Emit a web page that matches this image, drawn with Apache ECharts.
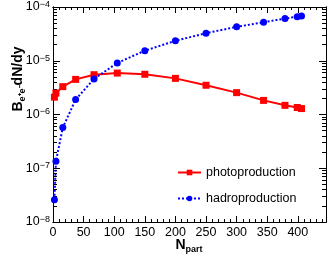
<!DOCTYPE html>
<html>
<head>
<meta charset="utf-8">
<script src="https://cdn.jsdelivr.net/npm/echarts@6/dist/echarts.min.js"></script>
<style>html,body{margin:0;padding:0;background:#fff;}#c{width:333px;height:262px;}</style>
</head>
<body>
<div id="c"></div>
<script>
const npart = [2.3, 4.8, 16, 37, 67, 105, 150, 200, 250, 300, 344, 379, 399, 406];
const photoproduction = [2.1e-6, 2.5e-6, 3.3e-6, 4.5e-6, 5.5e-6, 5.9e-6, 5.6e-6, 4.7e-6, 3.5e-6, 2.55e-6, 1.83e-6, 1.48e-6, 1.35e-6, 1.29e-6];
const hadroproduction = [2.6e-8, 1.35e-7, 5.7e-7, 1.9e-6, 4.6e-6, 9.1e-6, 1.54e-5, 2.35e-5, 3.26e-5, 4.27e-5, 5.2e-5, 6.1e-5, 6.6e-5, 6.8e-5];
const xMajorTicks = [0, 50, 100, 150, 200, 250, 300, 350, 400];
const yMajorTicks = [1e-8, 1e-7, 1e-6, 1e-5, 1e-4];
const xRange = [0, 446];
const yRange = [1e-8, 1e-4];

const FONT = 'Liberation Sans';
const xMinorTicks = [];
for (let v = 10; v < xRange[1]; v += 10) if (v % 50 !== 0) xMinorTicks.push(v);
const yMinorTicks = [];
for (let e = -8; e < -4; e++) for (let m = 2; m <= 9; m++) yMinorTicks.push(parseFloat((m + 'e' + e)));

function xAxisDef(pos, ticks, len, showLabel) {
  return {
    type: 'value', position: pos, min: xRange[0], max: xRange[1],
    axisLine: { show: true, onZero: false, lineStyle: { color: '#000', width: 1 } },
    axisTick: { show: true, inside: true, length: len, customValues: ticks, lineStyle: { color: '#000', width: 1 } },
    axisLabel: showLabel ? { show: true, customValues: xMajorTicks, margin: 4, color: '#000', fontSize: 12.5, fontFamily: FONT } : { show: false },
    splitLine: { show: false }
  };
}
function yAxisDef(pos, ticks, len, showLabel) {
  return {
    type: 'log', logBase: 10, position: pos, min: yRange[0], max: yRange[1],
    axisLine: { show: true, onZero: false, lineStyle: { color: '#000', width: 1 } },
    axisTick: { show: true, inside: true, length: len, customValues: ticks, lineStyle: { color: '#000', width: 1 } },
    axisLabel: showLabel ? {
      show: true, customValues: yMajorTicks, margin: 3, color: '#000', fontFamily: FONT,
      formatter: function (v) { const e = Math.round(Math.log10(v)); return '{n|10}{s|\u2212' + Math.abs(e) + '}'; },
      rich: {
        n: { fontSize: 12.5, fontFamily: FONT, color: '#000', lineHeight: 14, verticalAlign: 'middle' },
        s: { fontSize: 9, fontFamily: FONT, color: '#000', lineHeight: 14, verticalAlign: 'top' }
      }
    } : { show: false },
    splitLine: { show: false }
  };
}

const chart = echarts.init(document.getElementById('c'), null, { renderer: 'canvas' });
chart.setOption({
  animation: false,
  backgroundColor: '#fff',
  grid: { left: 53, top: 5, right: 7, bottom: 40, containLabel: false },
  xAxis: [
    xAxisDef('bottom', xMajorTicks, 6, true),
    xAxisDef('bottom', xMinorTicks, 3, false),
    xAxisDef('top', xMajorTicks, 6, false),
    xAxisDef('top', xMinorTicks, 3, false)
  ],
  yAxis: [
    yAxisDef('left', yMajorTicks, 7, true),
    yAxisDef('left', yMinorTicks, 4, false),
    yAxisDef('right', yMajorTicks, 7, false),
    yAxisDef('right', yMinorTicks, 4, false)
  ],
  legend: {
    orient: 'vertical', left: 177, top: 166, padding: 0, itemWidth: 23, itemHeight: 7, itemGap: 13,
    textStyle: { fontSize: 12.5, fontFamily: FONT, color: '#000' },
    data: ['photoproduction', 'hadroproduction']
  },
  series: [
    {
      name: 'photoproduction', type: 'line', xAxisIndex: 0, yAxisIndex: 0,
      data: npart.map((x, i) => [x, photoproduction[i]]),
      symbol: 'rect', symbolSize: 7,
      itemStyle: { color: '#ff0000' },
      lineStyle: { color: '#ff0000', width: 2, type: 'solid' }
    },
    {
      name: 'hadroproduction', type: 'line', xAxisIndex: 0, yAxisIndex: 0,
      data: npart.map((x, i) => [x, hadroproduction[i]]),
      symbol: 'circle', symbolSize: 7,
      itemStyle: { color: '#0000ff' },
      lineStyle: { color: '#0000ff', width: 2, type: [2, 2] }
    }
  ],
  graphic: [
    {
      type: 'text', x: 18, y: 79, rotation: Math.PI / 2,
      style: {
        text: '{b|B}{s|e\u207Ae\u207B}{b|dN/dy}',
        align: 'center', verticalAlign: 'middle', fill: '#000',
        rich: {
          b: { fontSize: 14, fontWeight: 'bold', fontFamily: FONT, fill: '#000', lineHeight: 18, verticalAlign: 'middle' },
          s: { fontSize: 9, fontWeight: 'bold', fontFamily: FONT, fill: '#000', lineHeight: 18, verticalAlign: 'bottom' }
        }
      }
    },
    {
      type: 'text', x: 189, y: 245,
      style: {
        text: '{b|N}{s|part}',
        align: 'center', verticalAlign: 'middle', fill: '#000',
        rich: {
          b: { fontSize: 14, fontWeight: 'bold', fontFamily: FONT, fill: '#000', lineHeight: 18, verticalAlign: 'middle' },
          s: { fontSize: 9, fontWeight: 'bold', fontFamily: FONT, fill: '#000', lineHeight: 18, verticalAlign: 'bottom' }
        }
      }
    }
  ]
});
</script>
</body>
</html>
